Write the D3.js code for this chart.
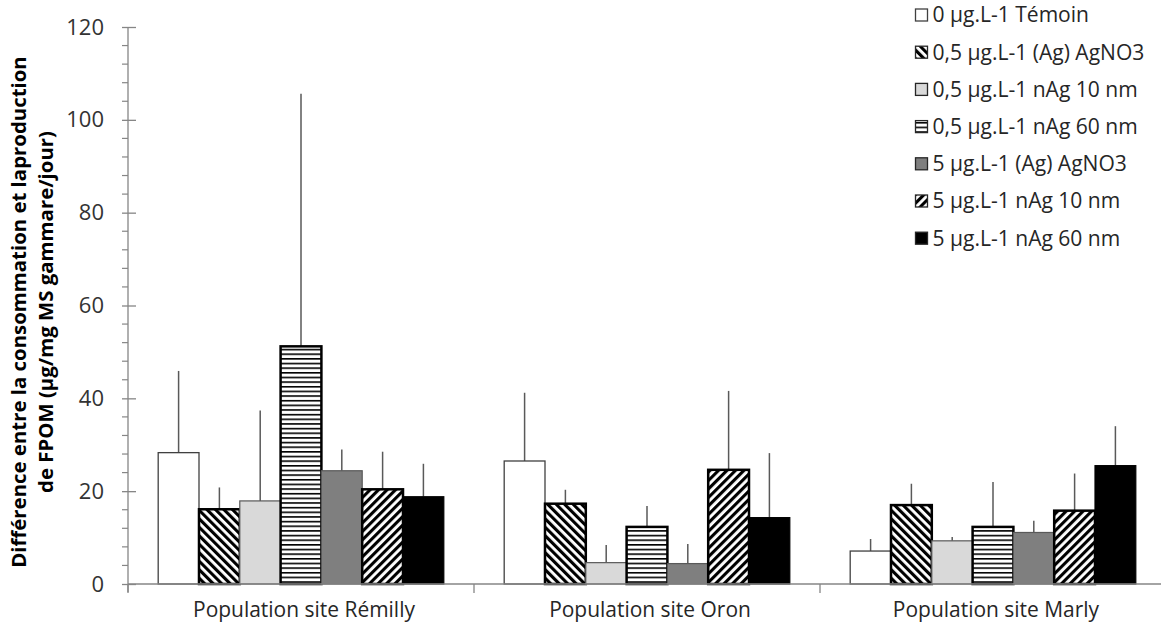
<!DOCTYPE html>
<html><head><meta charset="utf-8">
<script src="https://cdn.jsdelivr.net/npm/d3@7/dist/d3.min.js"></script>
<style>
html,body{margin:0;padding:0;background:#fff;}
text{font-family:"Open Sans",sans-serif;fill:#262626;}
</style></head>
<body>
<svg id="chart" width="1161" height="630"></svg>
<script>
const categories = ["Population site Rémilly", "Population site Oron", "Population site Marly"];
const seriesNames = ["0 µg.L-1 Témoin", "0,5 µg.L-1 (Ag) AgNO3", "0,5 µg.L-1 nAg 10 nm", "0,5 µg.L-1 nAg 60 nm", "5 µg.L-1 (Ag) AgNO3", "5 µg.L-1 nAg 10 nm", "5 µg.L-1 nAg 60 nm"];
// mean values per series, one entry per category
const temoin      = [28.3, 26.5, 7.1];
const agno3_05    = [16.1, 17.3, 17.0];
const nag10_05    = [17.9, 4.6, 9.3];
const nag60_05    = [51.2, 12.3, 12.3];
const agno3_5     = [24.4, 4.4, 11.1];
const nag10_5     = [20.4, 24.6, 15.8];
const nag60_5     = [18.8, 14.3, 25.5];
// upper error bar ends (mean + sd)
const temoinErr   = [45.9, 41.2, 9.7];
const agno3_05Err = [20.8, 20.3, 21.6];
const nag10_05Err = [37.4, 8.4, 10.1];
const nag60_05Err = [105.6, 16.8, 22.0];
const agno3_5Err  = [29.0, 8.6, 13.6];
const nag10_5Err  = [28.5, 41.6, 23.8];
const nag60_5Err  = [25.9, 28.2, 34.0];
const yTicks = [0, 20, 40, 60, 80, 100, 120];
const yTitle1 = "Différence entre la consommation  et laproduction";
const yTitle2 = "de FPOM (µg/mg MS gammare/jour)";

const values = [temoin, agno3_05, nag10_05, nag60_05, agno3_5, nag10_5, nag60_5];
const errs = [temoinErr, agno3_05Err, nag10_05Err, nag60_05Err, agno3_5Err, nag10_5Err, nag60_5Err];

const styles = [
  {fill:"#ffffff", stroke:"#404040", sw:1.3},
  {fill:"url(#pBack)", stroke:"#000", sw:2.5},
  {fill:"#d9d9d9", stroke:"#595959", sw:1.2},
  {fill:"url(#pHoriz)", stroke:"#000", sw:2.5},
  {fill:"#7f7f7f", stroke:"#595959", sw:1.2},
  {fill:"url(#pFwd)", stroke:"#000", sw:2.5},
  {fill:"#000000", stroke:"#000", sw:1.2}
];

const svg = d3.select("#chart");
const defs = svg.append("defs");
function diag(id, angle){
  const p = defs.append("pattern").attr("id", id).attr("patternUnits","userSpaceOnUse")
    .attr("width", 6).attr("height", 6).attr("patternTransform", `rotate(${angle})`);
  p.append("rect").attr("width",6).attr("height",6).attr("fill","#fff");
  p.append("rect").attr("width",3.1).attr("height",6).attr("fill","#000");
}
diag("pBack", -45);
diag("pFwd", 45);
{
  const p = defs.append("pattern").attr("id","pHoriz").attr("patternUnits","userSpaceOnUse")
    .attr("width", 8).attr("height", 4.65);
  p.append("rect").attr("width",8).attr("height",4.65).attr("fill","#fff");
  p.append("rect").attr("y",0).attr("width",8).attr("height",1.6).attr("fill","#000");
}

function fit(sel, target){
  const base = 16;
  sel.attr("font-size", base);
  const w = d3.max(sel.nodes(), n => n.getComputedTextLength());
  sel.attr("font-size", base * target / w);
}

const x0 = d3.scaleBand().domain(categories).range([128, 1166]).paddingInner(0).paddingOuter(0);
const x1 = d3.scaleBand().domain(d3.range(seriesNames.length)).range([0, x0.bandwidth()]).paddingInner(0).paddingOuter(0.74);
const y = d3.scaleLinear().domain([0, 120]).range([584, 27]);
const axisColor = "#868686";

// y axis
const yAxisG = svg.append("g").attr("transform","translate(128,0)");
const minor = d3.range(0, 121, 4).filter(v => v % 20 !== 0);
yAxisG.selectAll("line.minor").data(minor).join("line")
  .attr("x1",-6).attr("x2",0).attr("y1",d=>y(d)).attr("y2",d=>y(d))
  .attr("stroke",axisColor).attr("stroke-width",1.2);
const yAxis = d3.axisLeft(y).tickValues(yTicks).tickSize(6).tickPadding(18).tickFormat(d3.format("d"));
yAxisG.call(yAxis);
yAxisG.attr("font-size", null).attr("font-family", null);
yAxisG.select(".domain").attr("stroke",axisColor).attr("stroke-width",1.3).attr("d", `M0,${y(120)}V592`);
yAxisG.selectAll(".tick line").attr("stroke",axisColor).attr("stroke-width",1.3).attr("x1",8);
yAxisG.selectAll(".tick text").attr("font-size",22).style("font-size","22px").attr("fill","#333").style("fill","#333");

// bars
const groups = svg.append("g").selectAll("g").data(categories).join("g")
  .attr("transform", d => `translate(${x0(d)},0)`);
groups.each(function(cat, ci){
  const g = d3.select(this);
  seriesNames.forEach((s, si) => {
    const v = values[si][ci];
    g.append("line")
      .attr("x1", x1(si)+x1.bandwidth()/2).attr("x2", x1(si)+x1.bandwidth()/2)
      .attr("y1", y(v)).attr("y2", y(errs[si][ci]))
      .attr("stroke", "#595959").attr("stroke-width", 1.5);
  });
  seriesNames.forEach((s, si) => {
    const v = values[si][ci];
    const st = styles[si];
    g.append("rect")
      .attr("x", x1(si)).attr("y", y(v))
      .attr("width", x1.bandwidth()).attr("height", y(0)-y(v))
      .attr("fill", st.fill).attr("stroke", st.stroke).attr("stroke-width", st.sw);
  });
});

// x axis
const xAxisG = svg.append("g").attr("transform",`translate(0,${y(0)})`);
xAxisG.append("line").attr("x1",128).attr("x2",1166).attr("y1",0).attr("y2",0)
  .attr("stroke",axisColor).attr("stroke-width",1.5);
const dividers = categories.map(c => x0(c)).concat([x0(categories[categories.length-1]) + x0.bandwidth()]);
xAxisG.selectAll("line.div").data(dividers).join("line")
  .attr("x1",d=>d).attr("x2",d=>d).attr("y1",0).attr("y2",9)
  .attr("stroke",axisColor).attr("stroke-width",1.3);
const catText = xAxisG.selectAll("text").data(categories).join("text")
  .attr("x", d => x0(d)+x0.bandwidth()/2 + 3).attr("y", 26)
  .attr("dy","0.35em").attr("text-anchor","middle")
  .text(d=>d);
fit(catText.filter((d,i)=>i===0), 222);
catText.attr("font-size", catText.filter((d,i)=>i===0).attr("font-size"));

// y title
const tg = svg.append("g").attr("transform","translate(0,312) rotate(-90)");
const t1 = tg.append("text").attr("x",0).attr("y",19).attr("dy","0.35em").attr("text-anchor","middle")
  .attr("font-weight","bold").style("fill","#000").text(yTitle1);
fit(t1, 512);
tg.append("text").attr("x",0).attr("y",46).attr("dy","0.35em").attr("text-anchor","middle")
  .attr("font-weight","bold").attr("font-size", t1.attr("font-size")).style("fill","#000").text(yTitle2);

// legend
const leg = svg.append("g").selectAll("g").data(seriesNames).join("g")
  .attr("transform", (d,i) => `translate(915.5,${15 + i*37.2})`);
leg.append("rect").attr("x",0).attr("y",-6).attr("width",12).attr("height",12)
  .attr("fill",(d,i)=>styles[i].fill).attr("stroke",(d,i)=>i===0?"#404040":"#262626").attr("stroke-width",1.3);
const legText = leg.append("text").attr("x",17).attr("y",0).attr("dy","0.35em").text(d=>d);
fit(legText, 212);
</script>
</body></html>
